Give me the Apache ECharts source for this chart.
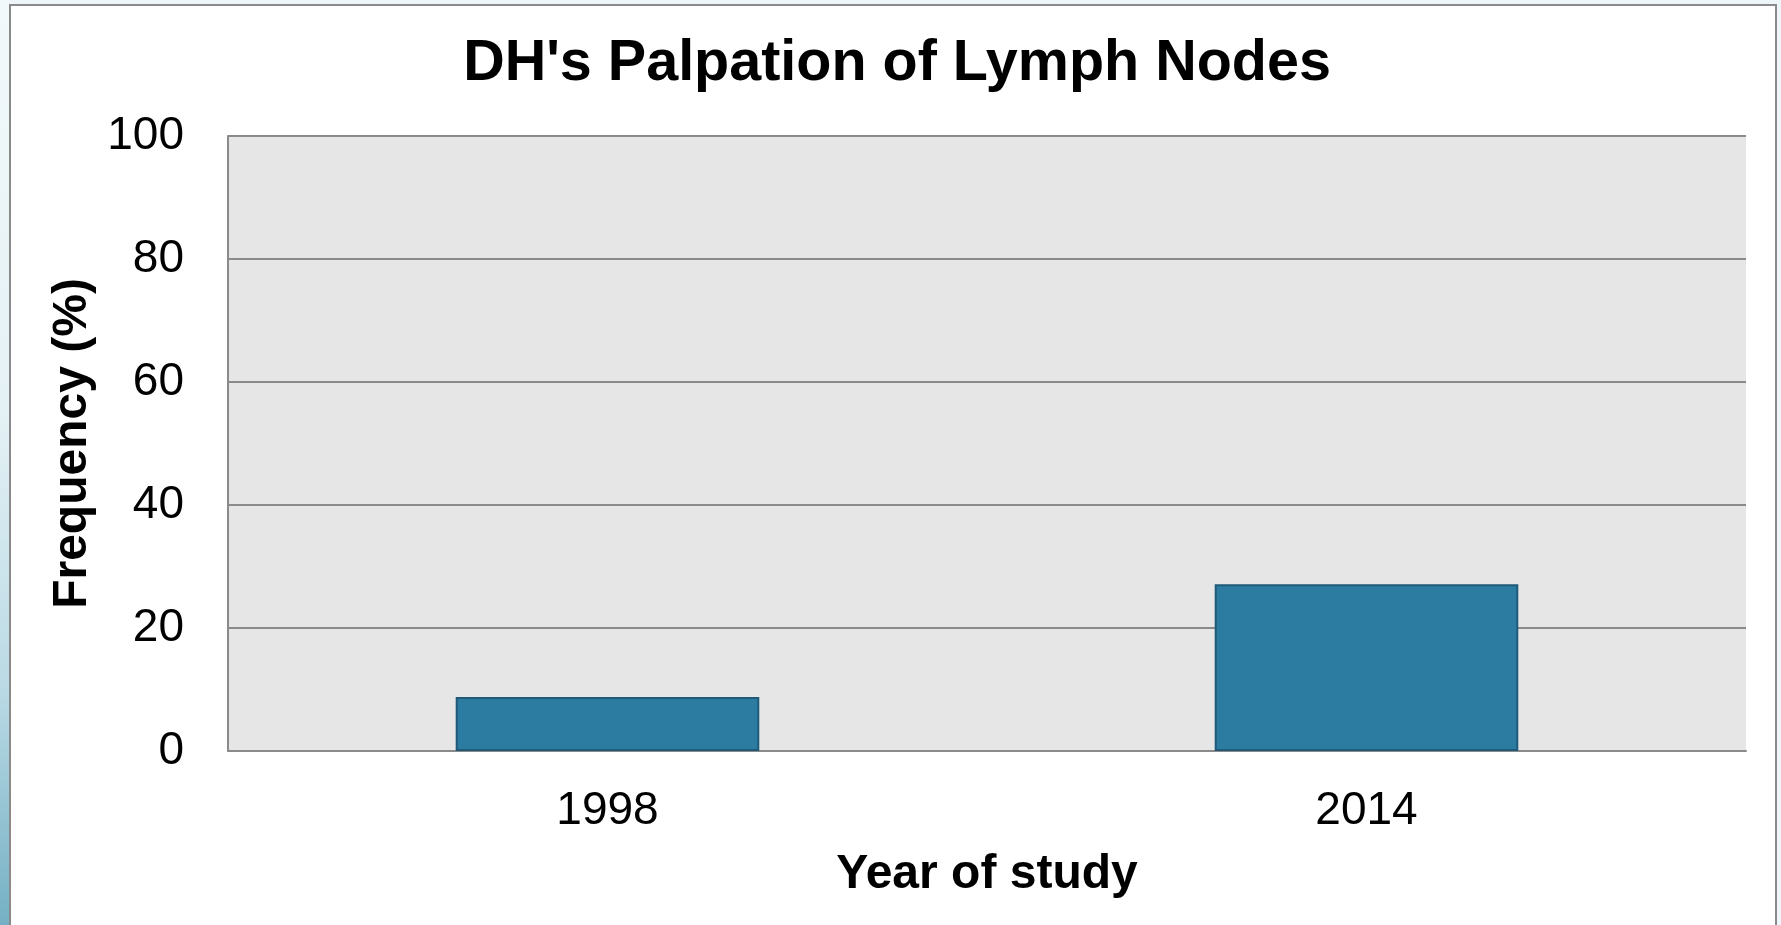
<!DOCTYPE html>
<html>
<head>
<meta charset="utf-8">
<script src="https://cdn.jsdelivr.net/npm/echarts@6/dist/echarts.min.js"></script>
<style>
  html, body { margin: 0; padding: 0; width: 1781px; height: 925px; overflow: hidden; background: #eef6f9; }
  #strip { position: absolute; left: 0; top: 0; width: 10px; height: 925px;
           background: linear-gradient(to bottom, #f2f9fb 0%, #e4f1f5 45%, #b9d9e4 75%, #74b0c4 100%); }
  #frame { position: absolute; left: 9px; top: 4px; width: 1764px; height: 940px;
           background: #ffffff; border: 2px solid #8a8a8a; }
  #chart { position: absolute; left: 0; top: 0; width: 1781px; height: 925px; }
</style>
</head>
<body>
<div id="strip"></div>
<div id="frame"></div>
<div id="chart"></div>
<script>
const categories = ['1998', '2014'];
const frequency = [8.8, 27.1];
const yTicks = { min: 0, max: 100, interval: 20 };

const chart = echarts.init(document.getElementById('chart'), null, { renderer: 'canvas' });
const font = '"Liberation Sans", Arial, sans-serif';
chart.setOption({
  backgroundColor: 'transparent',
  animation: false,
  title: {
    text: "DH's Palpation of Lymph Nodes",
    left: 892, top: 30, textAlign: 'center',
    textStyle: { fontFamily: font, fontSize: 57.5, fontWeight: 'bold', color: '#000' }
  },
  grid: {
    left: 228, right: 35, top: 136, bottom: 174,
    show: true, backgroundColor: '#e6e6e6', borderWidth: 0
  },
  xAxis: {
    type: 'category',
    data: categories,
    name: 'Year of study',
    nameLocation: 'middle',
    nameGap: 100,
    nameTextStyle: { fontFamily: font, fontSize: 48, fontWeight: 'bold', color: '#000' },
    axisLine: { show: true, lineStyle: { color: '#8a8a8a', width: 2 } },
    axisTick: { show: false },
    axisLabel: { fontFamily: font, fontSize: 46, color: '#000', margin: 37 }
  },
  yAxis: {
    type: 'value',
    min: yTicks.min, max: yTicks.max, interval: yTicks.interval,
    name: 'Frequency (%)',
    nameLocation: 'middle',
    nameGap: 130,
    nameTextStyle: { fontFamily: font, fontSize: 48, fontWeight: 'bold', color: '#000' },
    axisLine: { show: true, lineStyle: { color: '#8a8a8a', width: 2 } },
    axisTick: { show: false },
    splitLine: { show: true, lineStyle: { color: '#8a8a8a', width: 2 } },
    axisLabel: { fontFamily: font, fontSize: 46, color: '#000', margin: 44, padding: [4, 0, 0, 0] }
  },
  series: [{
    type: 'bar',
    data: frequency,
    barWidth: '40%',
    itemStyle: { color: '#2c7ba0', borderColor: '#1f5a78', borderWidth: 2 }
  }]
});
</script>
</body>
</html>
